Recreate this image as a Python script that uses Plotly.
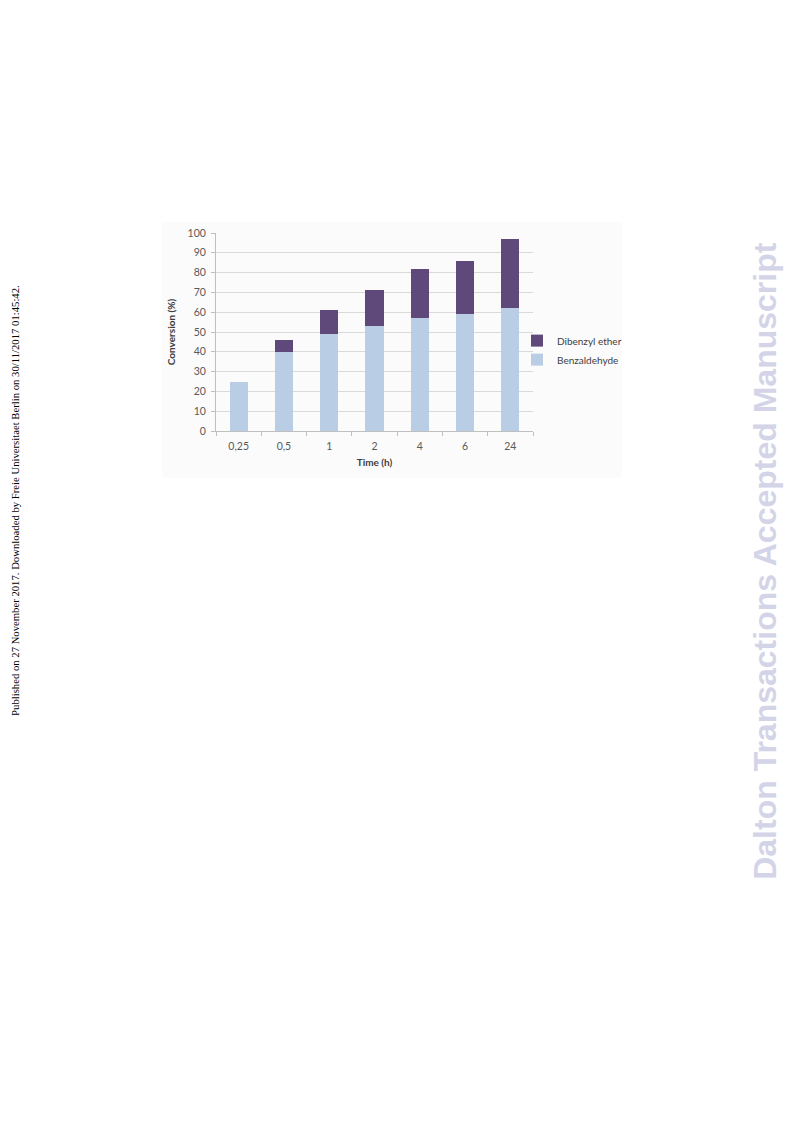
import plotly.graph_objects as go

categories = ["0,25", "0,5", "1", "2", "4", "6", "24"]
benzaldehyde = [25, 40, 49, 53, 57, 59, 62]
dibenzyl_ether = [0, 6, 12, 18, 25, 27, 35]

OFF = 8  # page body margin in the rendered html
W, H = 793 - 2 * OFF, 1123 - 2 * OFF
L, R, T, B = 216 - OFF, 533 - OFF, 232.7 - OFF, 431.0 - OFF


def px(x):
    return (x - OFF - L) / (R - L)


def py(y):
    return (B - (y - OFF)) / (B - T)


fig = go.Figure()
fig.add_trace(go.Bar(x=categories, y=benzaldehyde, name="Benzaldehyde",
                     marker=dict(color="#b9cde5", line=dict(width=0))))
fig.add_trace(go.Bar(x=categories, y=dibenzyl_ether, name="Dibenzyl ether",
                     marker=dict(color="#5f497a", line=dict(width=0))))

font_family = "Lato, 'Open Sans', sans-serif"

fig.update_layout(
    width=W, height=H,
    margin=dict(l=L, r=W - R, t=T, b=H - B, pad=0),
    paper_bgcolor="white", plot_bgcolor="rgba(0,0,0,0)",
    barmode="stack", bargap=0.6,
    showlegend=True,
    legend=dict(x=px(517), y=py(350), xanchor="left", yanchor="middle",
                traceorder="reversed", font=dict(family=font_family, size=10, color="#404040"),
                bgcolor="rgba(0,0,0,0)", itemwidth=30, tracegroupgap=4),
    font=dict(family=font_family, size=10, color="#595959"),
)

fig.update_yaxes(range=[0, 100], dtick=10, showgrid=True, gridcolor="#d9d9d9", gridwidth=1,
                 showline=True, linecolor="#bfbfbf", linewidth=1,
                 ticks="outside", ticklen=4, tickcolor="#bfbfbf", ticklabelstandoff=3,
                 tickfont=dict(size=10.5, color="#595959"), zeroline=False,
                 title=dict(text="<b>Conversion (%)</b>", font=dict(size=10, color="#404040"), standoff=10))
fig.update_xaxes(showline=True, linecolor="#bfbfbf", linewidth=1,
                 ticks="outside", ticklen=4, tickcolor="#bfbfbf", tickson="boundaries",
                 ticklabelstandoff=5,
                 tickfont=dict(size=10.5, color="#595959"),
                 title=dict(text="<b>Time (h)</b>", font=dict(size=10, color="#404040"), standoff=8))

fig.add_shape(type="rect", xref="paper", yref="paper",
              x0=px(162), x1=px(622), y0=py(478), y1=py(222),
              fillcolor="#fbfbfb", line=dict(width=0), layer="below")

fig.add_annotation(text="Published on 27 November 2017. Downloaded by Freie Universitaet Berlin on 30/11/2017 01:45:42.",
                   xref="paper", yref="paper", x=px(15), y=py(500), textangle=-90,
                   showarrow=False, xanchor="center", yanchor="middle",
                   font=dict(family="'Liberation Serif', 'Times New Roman', serif", size=10.7, color="#000000"))
fig.add_annotation(text="<b>Dalton Transactions Accepted Manuscript</b>",
                   xref="paper", yref="paper", x=px(765), y=py(561), textangle=-90,
                   showarrow=False, xanchor="center", yanchor="middle",
                   font=dict(family="'Liberation Sans', Arial, sans-serif", size=32, color="#d4d4e8"))

fig.write_html("out.html")
